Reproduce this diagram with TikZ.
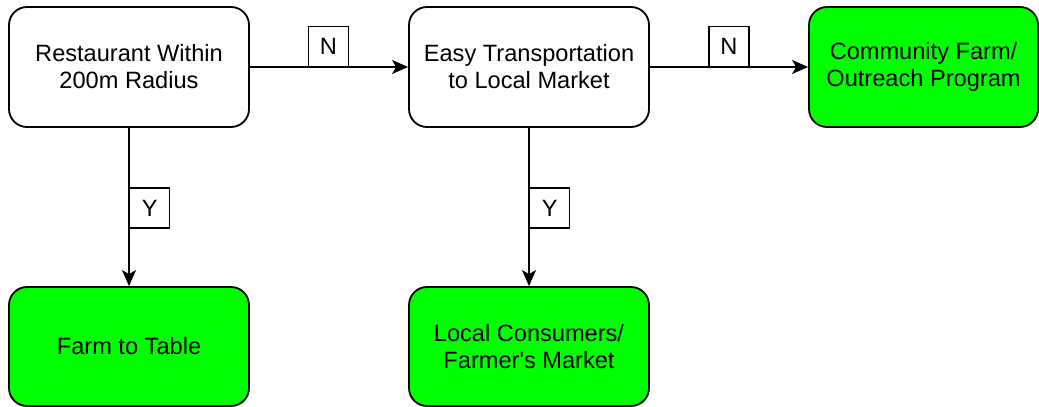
\documentclass[tikz,border=0pt]{standalone}
\usepackage{fontspec}
\setmainfont{Liberation Sans}
\usetikzlibrary{arrows.meta}
\definecolor{boxgreen}{RGB}{0,255,0}
\begin{document}
\begin{tikzpicture}[x=1pt,y=-1pt,
  box/.style={draw=black, line width=1.8pt, rounded corners=18pt, minimum width=240pt, minimum height=120pt, align=center, inner sep=0pt, font=\fontsize{23.6}{27}\selectfont},
  whitebox/.style={box, fill=white},
  greenbox/.style={box, fill=boxgreen},
  lbl/.style={draw=black, line width=1.4pt, fill=white, minimum width=40pt, minimum height=40pt, inner sep=0pt, font=\fontsize{23.6}{27}\selectfont},
  conn/.style={line width=1.8pt, -{Stealth[length=16pt,width=14pt,inset=4pt]}}
]
\useasboundingbox (0,0) rectangle (1039,407);
\node[whitebox] (rest) at (129,67) {Restaurant Within\\200m Radius};
\node[whitebox] (trans) at (529,67) {Easy Transportation\\to Local Market};
\node[greenbox, minimum width=229pt] (comm) at (923.5,67) {Community Farm/\\Outreach Program};
\node[greenbox, minimum height=119pt] (farm) at (129,346.5) {Farm to Table};
\node[greenbox, minimum height=119pt] (local) at (529,346.5) {Local Consumers/\\Farmer\textquotesingle s Market};
\draw[conn] (rest) -- (trans);
\draw[conn] (trans) -- (comm);
\draw[conn] (rest) -- (farm);
\draw[conn] (trans) -- (local);
\node[lbl, anchor=south] (n1) at (328.5,67) {N};
\node[lbl, anchor=south] (n2) at (729,67) {N};
\node[lbl, anchor=west] (y1) at (129,208) {Y};
\node[lbl, anchor=west] (y2) at (529,208) {Y};
\end{tikzpicture}
\end{document}
